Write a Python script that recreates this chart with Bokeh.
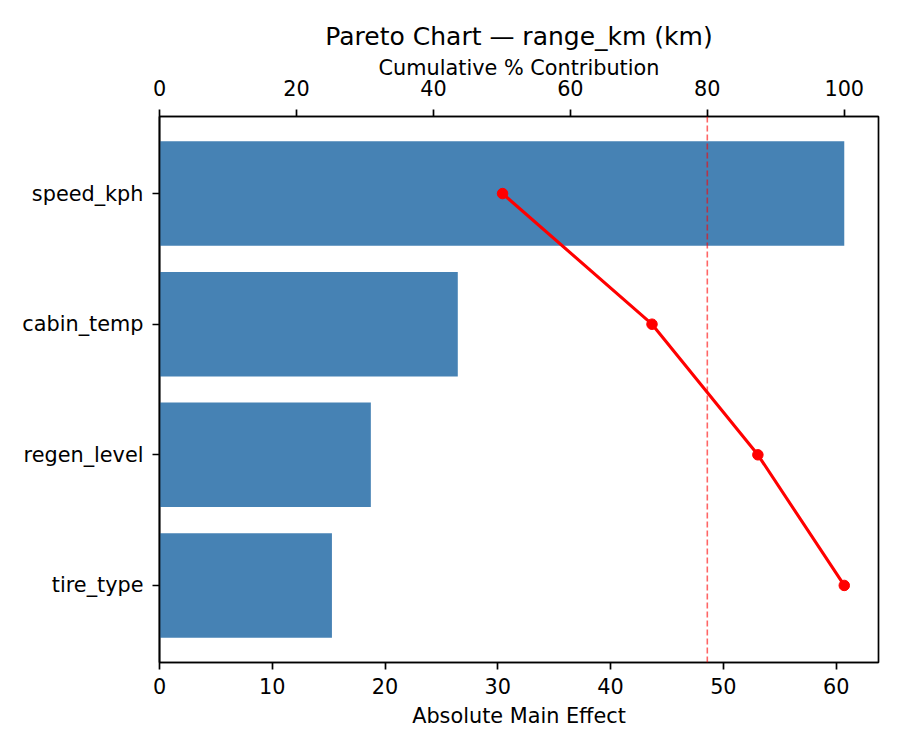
from bokeh.plotting import figure
from bokeh.models import (Range1d, LinearAxis, FixedTicker, SingleIntervalTicker, Span)
from bokeh.embed import file_html
from bokeh.resources import INLINE

# ---- data ----
categories = ["speed_kph", "cabin_temp", "regen_level", "tire_type"]
effects = [60.72, 26.45, 18.74, 15.29]
threshold_pct = 80
title_text = "Pareto Chart \u2014 range_km (km)"

total = sum(effects)
cum_pct = []
run = 0.0
for v in effects:
    run += v
    cum_pct.append(run / total * 100.0)

ypos = list(range(len(categories)))

FONT = "DejaVu Sans"
TICK_FS = "20.8px"
LABEL_FS = "20.8px"

xmax = max(effects) * 1.05
pad = 0.4 + 0.19
p = figure(width=884, height=734, output_backend="svg", toolbar_location=None,
           x_range=Range1d(0, xmax), y_range=Range1d(len(categories) - 1 + pad, -pad),
           min_border_left=159, min_border_right=6, min_border_top=116, min_border_bottom=72)
p.extra_x_ranges = {"cum": Range1d(0, 105)}

p.title.text = title_text
p.title.align = "center"
p.title.text_font = FONT
p.title.text_font_size = "25px"
p.title.text_font_style = "normal"
p.title.text_color = "black"
p.title.standoff = 3

p.grid.visible = False
p.outline_line_color = "black"
p.outline_line_width = 1.7
p.outline_line_alpha = 1.0
p.background_fill_color = "white"
p.border_fill_color = "white"

p.hbar(y=ypos, right=effects, left=0, height=0.8, color="#4682B4", line_color=None)

p.add_layout(Span(location=threshold_pct, dimension="height", x_range_name="cum",
                  line_color="red", line_alpha=0.6, line_width=1.6, line_dash="6 3"))

p.line(x=cum_pct, y=ypos, x_range_name="cum", line_color="red", line_width=3.1)
p.scatter(x=cum_pct, y=ypos, x_range_name="cum", size=10.5, color="red")

def style(ax):
    ax.axis_line_color = "black"
    ax.axis_line_width = 1.7
    ax.major_tick_line_color = "black"
    ax.major_tick_line_width = 1.7
    ax.major_tick_out = 7
    ax.major_tick_in = 0
    ax.minor_tick_line_color = None
    ax.major_label_text_font = FONT
    ax.major_label_text_font_size = TICK_FS
    ax.major_label_text_color = "black"
    ax.axis_label_text_font = FONT
    ax.axis_label_text_font_size = LABEL_FS
    ax.axis_label_text_font_style = "normal"
    ax.axis_label_text_color = "black"
    ax.major_label_standoff = 7
    ax.axis_label_standoff = 7

xa = p.xaxis[0]
xa.ticker = SingleIntervalTicker(interval=10)
xa.axis_label = "Absolute Main Effect"
style(xa)
xa.major_label_standoff = 8

ya = p.yaxis[0]
ya.ticker = FixedTicker(ticks=ypos)
ya.major_label_overrides = {i: c for i, c in enumerate(categories)}
style(ya)
ya.major_label_standoff = 9

top = LinearAxis(x_range_name="cum", axis_label="Cumulative % Contribution",
                 ticker=SingleIntervalTicker(interval=20))
style(top)
top.major_label_standoff = 14
top.axis_label_standoff = -3
p.add_layout(top, "above")

open("out.html", "w").write(file_html(p, INLINE))
